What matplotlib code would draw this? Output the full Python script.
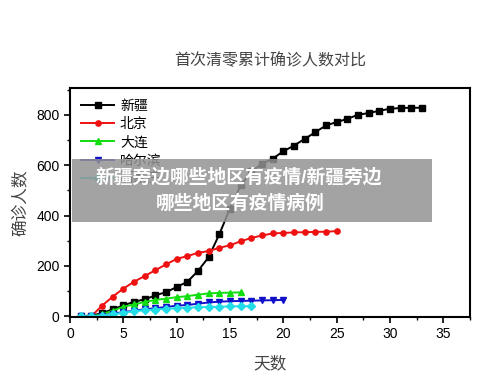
import numpy as np
import matplotlib.pyplot as plt
from matplotlib.ticker import MultipleLocator
from matplotlib.patches import Rectangle

plt.rcParams['font.family'] = ['Liberation Sans', 'Noto Sans CJK SC', 'DejaVu Sans']

# cumulative confirmed cases per day until first "zero"
xinjiang = [0, 3, 12, 28, 43, 58, 67, 83, 96, 116, 137, 180, 235, 326, 428, 520, 575,
            605, 626, 655, 678, 704, 731, 758, 771, 784, 800, 807, 816, 824, 827, 828, 828]
beijing = [0, 0, 42, 78, 110, 137, 160, 183, 206, 228, 239, 252, 259, 272, 282, 298, 311,
           321, 329, 331, 333, 334, 335, 336, 338]
dalian = [0, 0, 8, 22, 38, 47, 57, 65, 70, 76, 80, 86, 91, 93, 94, 95]
haerbin = [0, 0, 3, 10, 17, 22, 28, 32, 37, 42, 45, 50, 55, 58, 60, 61, 62, 63, 64, 65]
other = [0, 0, 3, 8, 14, 20, 24, 27, 30, 32, 34, 36, 37, 38, 39, 40, 40]

series = [
    ('新疆', xinjiang, 'black', 's'),
    ('北京', beijing, '#ee1111', 'o'),
    ('大连', dalian, '#11dd11', '^'),
    ('哈尔滨', haerbin, '#1111cc', 'v'),
    ('石家庄', other, '#22dde8', 'D'),
]

fig = plt.figure(figsize=(5, 3.82), dpi=100)
ax = fig.add_axes([0.14, 0.17, 0.80, 0.60])

for name, vals, col, mk in series:
    days = np.arange(1, len(vals) + 1)
    ax.plot(days, vals, color=col, marker=mk, markersize=3.8, linewidth=1.4, label=name)

ax.set_xlim(0, 37.5)
ax.set_ylim(-3, 907)
ax.xaxis.set_major_locator(MultipleLocator(5))
ax.xaxis.set_minor_locator(MultipleLocator(2.5))
ax.yaxis.set_major_locator(MultipleLocator(200))
ax.yaxis.set_minor_locator(MultipleLocator(100))
ax.tick_params(which='major', direction='out', length=4, width=1.2, labelsize=10)
ax.tick_params(which='minor', direction='out', length=2, width=1)
for s in ax.spines.values():
    s.set_linewidth(1.5)

ax.set_title('首次清零累计确诊人数对比', fontsize=11.5, color='#444444', pad=16)
ax.set_xlabel('天数', fontsize=12, color='#444444', labelpad=10)
ax.set_ylabel('确诊人数', fontsize=12, color='#444444', labelpad=6)

ax.legend(loc='upper left', frameon=False, fontsize=10, handlelength=2.4,
          labelspacing=0.3, borderaxespad=0.4, handletextpad=0.4)

# grey banner over the chart
fig.patches.append(Rectangle((72 / 500, 1 - 222 / 382), 360 / 500, 63 / 382,
                             transform=fig.transFigure, facecolor='#939393',
                             alpha=0.85, edgecolor='none', zorder=10))
fig.text(0.478, 1 - 177 / 382, '新疆旁边哪些地区有疫情/新疆旁边', ha='center', va='center',
         color='white', fontsize=13.5, fontweight='bold', zorder=11)
fig.text(0.48, 1 - 204 / 382, '哪些地区有疫情病例', ha='center', va='center',
         color='white', fontsize=13.5, fontweight='bold', zorder=11)

plt.savefig('out.png', dpi=100)
